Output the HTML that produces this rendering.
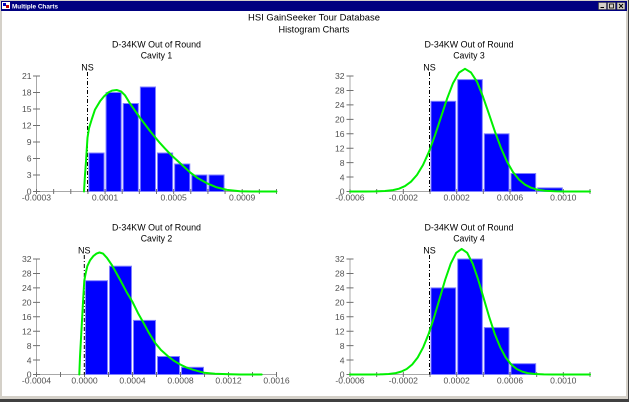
<!DOCTYPE html>
<html><head><meta charset="utf-8"><style>
html,body{margin:0;padding:0;background:#d4d0c8;}
svg{display:block;}
text{font-family:"Liberation Sans",Arial,sans-serif;}
.t{font-size:9px;fill:#000;}
.yl{font-size:8.6px;fill:#505050;text-anchor:end;}
.xl{font-size:8.6px;fill:#505050;text-anchor:middle;}
.ax{stroke:#a8a8a8;stroke-width:1;fill:none;}
.tk{stroke:#707070;stroke-width:1;fill:none;}
.bar{fill:#0000ff;stroke:#8080ff;stroke-width:1;}
.cv{fill:none;stroke:#00f000;stroke-width:2;stroke-linejoin:round;stroke-linecap:round;}
.ns{stroke:#000;stroke-width:1;stroke-dasharray:4 2 1 2;fill:none;}
</style></head><body>
<svg width="629" height="402" viewBox="0 0 629 402" xmlns="http://www.w3.org/2000/svg">
<!-- window frame -->
<rect x="0" y="0" width="629" height="402" fill="#d4d0c8"/>
<rect x="628" y="0" width="1" height="402" fill="#404040"/>
<rect x="0" y="399" width="629" height="3" fill="#404040"/>
<rect x="1" y="1" width="626" height="10" fill="#000080"/>
<rect x="2" y="11" width="624" height="385" fill="#ffffff"/>
<!-- icon -->
<rect x="2" y="2" width="8" height="7" fill="#ffffff"/>
<rect x="3" y="3" width="3" height="3" fill="#0000c0"/>
<rect x="6" y="5" width="3" height="3" fill="#c00000"/>
<text x="12" y="8.6" font-size="6.6" font-weight="bold" fill="#ffffff" textLength="46" lengthAdjust="spacingAndGlyphs">Multiple Charts</text>
<!-- buttons -->
<g stroke="#404040" stroke-width="0.6">
<rect x="598.5" y="2.5" width="8" height="7" fill="#d4d0c8"/>
<rect x="607.5" y="2.5" width="8" height="7" fill="#d4d0c8"/>
<rect x="617" y="2.5" width="8" height="7" fill="#d4d0c8"/>
</g>
<rect x="600.5" y="7" width="3.5" height="1" fill="#000"/>
<rect x="609.5" y="4" width="4" height="4" fill="none" stroke="#000" stroke-width="0.8"/>
<path d="M619 4 L623 8 M623 4 L619 8" stroke="#000" stroke-width="1"/>

<!-- main titles -->
<text class="t" x="314" y="20.7" text-anchor="middle" font-size="9.4" textLength="132" lengthAdjust="spacingAndGlyphs">HSI GainSeeker Tour Database</text>
<text class="t" x="314" y="32.5" text-anchor="middle" font-size="9.4" textLength="71" lengthAdjust="spacingAndGlyphs">Histogram Charts</text>

<!-- ============ CHART 1 ============ -->
<g>
<text class="t" x="156.5" y="47.3" text-anchor="middle" textLength="89" lengthAdjust="spacingAndGlyphs">D-34KW Out of Round</text>
<text class="t" x="156.5" y="58.6" text-anchor="middle" textLength="31.5" lengthAdjust="spacingAndGlyphs">Cavity 1</text>
<line class="ax" x1="36.5" y1="76" x2="36.5" y2="191.5"/>
<line class="ax" x1="36.5" y1="191.5" x2="276.5" y2="191.5"/>
<g class="tk">
<path d="M33 76H40M33 92.5H40M33 109H40M33 125.5H40M33 142H40M33 158.5H40M33 175H40M33 191.5H40"/>
<path d="M36.5 189v5M53.64 189v5M70.79 189v5M87.93 189v5M105.07 189v5M122.21 189v5M139.36 189v5M156.5 189v5M173.64 189v5M190.79 189v5M207.93 189v5M225.07 189v5M242.21 189v5M259.36 189v5M276.5 189v5"/>
</g>
<text class="yl" x="31.5" y="79.2">21</text>
<text class="yl" x="31.5" y="95.7">18</text>
<text class="yl" x="31.5" y="112.2">15</text>
<text class="yl" x="31.5" y="128.7">12</text>
<text class="yl" x="31.5" y="145.2">9</text>
<text class="yl" x="31.5" y="161.7">6</text>
<text class="yl" x="31.5" y="178.2">3</text>
<text class="yl" x="31.5" y="194.7">0</text>
<text class="xl" x="36.5" y="200.5">-0.0003</text>
<text class="xl" x="105.07" y="200.5">0.0001</text>
<text class="xl" x="173.64" y="200.5">0.0005</text>
<text class="xl" x="242.21" y="200.5">0.0009</text>
<line class="ns" x1="87.5" y1="72" x2="87.5" y2="191.5"/>
<text class="t" x="87.5" y="70.5" text-anchor="middle">NS</text>
<rect class="bar" x="88.93" y="153" width="15.14" height="38.5"/>
<rect class="bar" x="106.07" y="92.5" width="15.14" height="99"/>
<rect class="bar" x="123.21" y="103.5" width="15.14" height="88"/>
<rect class="bar" x="140.36" y="87" width="15.14" height="104.5"/>
<rect class="bar" x="157.5" y="153" width="15.14" height="38.5"/>
<rect class="bar" x="174.64" y="164" width="15.14" height="27.5"/>
<rect class="bar" x="191.79" y="175" width="15.14" height="16.5"/>
<rect class="bar" x="208.93" y="175" width="15.14" height="16.5"/>
<polyline class="cv" points="84,191.5 85,175 86,161.3 87.5,137.6 89,128.3 91.7,119.5 95,109.6 100,101.3 104,96.4 108.3,92.5 112,90.6 116.7,90 121,91.4 125,95.3 130,103.5 135,110.7 140,117.8 145,124.4 150,131 155,137.1 160,143.1 165,148.6 172,155.8 181,164 190,172.3 198,178.3 207,183.3 216,187.1 227,189.9 240,191.2 252,191.5 276.5,191.5"/>
</g>

<!-- ============ CHART 3 ============ -->
<g>
<text class="t" x="469" y="47.3" text-anchor="middle" textLength="89" lengthAdjust="spacingAndGlyphs">D-34KW Out of Round</text>
<text class="t" x="469" y="58.6" text-anchor="middle" textLength="31.5" lengthAdjust="spacingAndGlyphs">Cavity 3</text>
<line class="ax" x1="350" y1="76" x2="350" y2="191.5"/>
<line class="ax" x1="350" y1="191.5" x2="590" y2="191.5"/>
<g class="tk">
<path d="M346.5 76H353.5M346.5 90.45H353.5M346.5 104.88H353.5M346.5 119.32H353.5M346.5 133.76H353.5M346.5 148.19H353.5M346.5 162.63H353.5M346.5 177.06H353.5M346.5 191.5H353.5"/>
<path d="M350 189v5M376.67 189v5M403.33 189v5M430 189v5M456.67 189v5M483.33 189v5M510 189v5M536.67 189v5M563.33 189v5M590 189v5"/>
</g>
<text class="yl" x="344.5" y="79.2">32</text>
<text class="yl" x="344.5" y="93.6">28</text>
<text class="yl" x="344.5" y="108.1">24</text>
<text class="yl" x="344.5" y="122.5">20</text>
<text class="yl" x="344.5" y="137">16</text>
<text class="yl" x="344.5" y="151.4">12</text>
<text class="yl" x="344.5" y="165.8">8</text>
<text class="yl" x="344.5" y="180.3">4</text>
<text class="yl" x="344.5" y="194.7">0</text>
<text class="xl" x="350" y="200.5">-0.0006</text>
<text class="xl" x="403.33" y="200.5">-0.0002</text>
<text class="xl" x="456.67" y="200.5">0.0002</text>
<text class="xl" x="510" y="200.5">0.0006</text>
<text class="xl" x="563.33" y="200.5">0.0010</text>
<line class="ns" x1="429.5" y1="72" x2="429.5" y2="191.5"/>
<text class="t" x="429.5" y="70.5" text-anchor="middle">NS</text>
<rect class="bar" x="431" y="101.3" width="24.67" height="90.2"/>
<rect class="bar" x="457.67" y="79.6" width="24.67" height="111.9"/>
<rect class="bar" x="484.33" y="133.8" width="24.67" height="57.7"/>
<rect class="bar" x="511" y="173.5" width="24.67" height="18"/>
<rect class="bar" x="537.67" y="187.9" width="24.67" height="3.6"/>
<polyline class="cv" points="350,191.5 365,191.5 375,191.4 385,191 393,190.1 399,188.7 405,186.1 411,181.7 417,174.9 423,165 429,151.7 435,135.3 441,117.1 447,98.9 453,83.2 459,72.6 465,68.8 471,72.5 477,81.8 483,96.8 489,114.1 495,131.8 501,148 507,161.6 513,172.1 519,179.6 525,184.6 531,187.7 537,189.6 545,190.8 555,191.3 565,191.5 590,191.5"/>
</g>

<!-- ============ CHART 2 ============ -->
<g>
<text class="t" x="156.5" y="230.3" text-anchor="middle" textLength="89" lengthAdjust="spacingAndGlyphs">D-34KW Out of Round</text>
<text class="t" x="156.5" y="241.6" text-anchor="middle" textLength="31.5" lengthAdjust="spacingAndGlyphs">Cavity 2</text>
<line class="ax" x1="36.5" y1="259" x2="36.5" y2="374.5"/>
<line class="ax" x1="36.5" y1="374.5" x2="276.5" y2="374.5"/>
<g class="tk">
<path d="M33 259H40M33 273.45H40M33 287.88H40M33 302.32H40M33 316.76H40M33 331.19H40M33 345.63H40M33 360.06H40M33 374.5H40"/>
<path d="M36.5 372v5M60.5 372v5M84.5 372v5M108.5 372v5M132.5 372v5M156.5 372v5M180.5 372v5M204.5 372v5M228.5 372v5M252.5 372v5M276.5 372v5"/>
</g>
<text class="yl" x="31.5" y="262.2">32</text>
<text class="yl" x="31.5" y="276.6">28</text>
<text class="yl" x="31.5" y="291.1">24</text>
<text class="yl" x="31.5" y="305.5">20</text>
<text class="yl" x="31.5" y="320">16</text>
<text class="yl" x="31.5" y="334.4">12</text>
<text class="yl" x="31.5" y="348.8">8</text>
<text class="yl" x="31.5" y="363.3">4</text>
<text class="yl" x="31.5" y="377.7">0</text>
<text class="xl" x="36.5" y="383.5">-0.0004</text>
<text class="xl" x="84.5" y="383.5">0.0000</text>
<text class="xl" x="132.5" y="383.5">0.0004</text>
<text class="xl" x="180.5" y="383.5">0.0008</text>
<text class="xl" x="228.5" y="383.5">0.0012</text>
<text class="xl" x="276.5" y="383.5">0.0016</text>
<line class="ns" x1="84.3" y1="255" x2="84.3" y2="374.5"/>
<text class="t" x="84.3" y="253.5" text-anchor="middle">NS</text>
<rect class="bar" x="85.5" y="280.7" width="22" height="93.8"/>
<rect class="bar" x="109.5" y="266.2" width="22" height="108.3"/>
<rect class="bar" x="133.5" y="320.4" width="22" height="54.1"/>
<rect class="bar" x="157.5" y="356.5" width="22" height="18"/>
<rect class="bar" x="181.5" y="367.3" width="22" height="7.2"/>
<polyline class="cv" points="79.3,374.5 80,356.5 81,338.4 81.7,326.1 83,302.3 84.3,280.7 85.5,274.2 87.3,266.2 90,260.4 93.3,256.1 96.5,253.6 99.5,252.5 103,253.6 107,257.9 111.7,264.8 116,272.4 120,279.6 126.7,292.2 132.7,302.3 138,313.1 143.3,322.5 149,333 155,342.7 161,350 168.3,356.5 174,360.8 180,364.4 186,367.3 193.3,369.8 204,372.7 215,373.8 230,374.3 240,374.5 261.7,374.5"/>
</g>

<!-- ============ CHART 4 ============ -->
<g>
<text class="t" x="469" y="230.3" text-anchor="middle" textLength="89" lengthAdjust="spacingAndGlyphs">D-34KW Out of Round</text>
<text class="t" x="469" y="241.6" text-anchor="middle" textLength="31.5" lengthAdjust="spacingAndGlyphs">Cavity 4</text>
<line class="ax" x1="350" y1="259" x2="350" y2="374.5"/>
<line class="ax" x1="350" y1="374.5" x2="590" y2="374.5"/>
<g class="tk">
<path d="M346.5 259H353.5M346.5 273.45H353.5M346.5 287.88H353.5M346.5 302.32H353.5M346.5 316.76H353.5M346.5 331.19H353.5M346.5 345.63H353.5M346.5 360.06H353.5M346.5 374.5H353.5"/>
<path d="M350 372v5M376.67 372v5M403.33 372v5M430 372v5M456.67 372v5M483.33 372v5M510 372v5M536.67 372v5M563.33 372v5M590 372v5"/>
</g>
<text class="yl" x="344.5" y="262.2">32</text>
<text class="yl" x="344.5" y="276.6">28</text>
<text class="yl" x="344.5" y="291.1">24</text>
<text class="yl" x="344.5" y="305.5">20</text>
<text class="yl" x="344.5" y="320">16</text>
<text class="yl" x="344.5" y="334.4">12</text>
<text class="yl" x="344.5" y="348.8">8</text>
<text class="yl" x="344.5" y="363.3">4</text>
<text class="yl" x="344.5" y="377.7">0</text>
<text class="xl" x="350" y="383.5">-0.0006</text>
<text class="xl" x="403.33" y="383.5">-0.0002</text>
<text class="xl" x="456.67" y="383.5">0.0002</text>
<text class="xl" x="510" y="383.5">0.0006</text>
<text class="xl" x="563.33" y="383.5">0.0010</text>
<line class="ns" x1="429.5" y1="255" x2="429.5" y2="374.5"/>
<text class="t" x="429.5" y="253.5" text-anchor="middle">NS</text>
<rect class="bar" x="431" y="287.9" width="24.67" height="86.6"/>
<rect class="bar" x="457.67" y="259" width="24.67" height="115.5"/>
<rect class="bar" x="484.33" y="327.6" width="24.67" height="46.9"/>
<rect class="bar" x="511" y="363.7" width="24.67" height="10.8"/>
<polyline class="cv" points="350,374.5 369.7,374.5 379.7,374.4 388.7,374 395.7,373.1 401.2,371.6 406.7,369 412.2,364.5 417.7,357.5 423.2,347.3 428.7,333.7 434.2,317 439.7,298.3 445.2,279.7 450.7,263.7 456.2,252.8 461.7,248.9 467.2,252.8 472.7,263.7 478.2,279.7 483.7,298.3 489.2,317 494.7,333.7 500.2,347.3 505.7,357.5 511.2,364.5 516.7,369 522.2,371.6 527.7,373.1 534.7,374 543.7,374.4 553.7,374.5 590,374.5"/>
</g>
</svg>
</body></html>
